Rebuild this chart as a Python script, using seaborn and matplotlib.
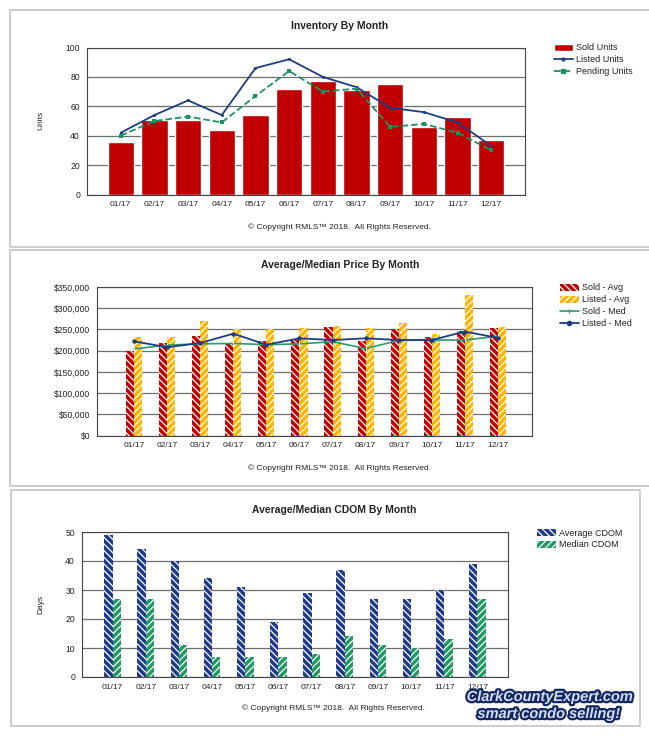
import numpy as np
import pandas as pd
import seaborn as sns
import matplotlib.pyplot as plt
import matplotlib.patheffects as pe
from matplotlib.patches import Patch, Rectangle
from matplotlib.lines import Line2D
from matplotlib.ticker import FuncFormatter, MultipleLocator

months = ['01/17', '02/17', '03/17', '04/17', '05/17', '06/17',
          '07/17', '08/17', '09/17', '10/17', '11/17', '12/17']

# Inventory
sold_units = [36, 51, 51, 44, 54, 72, 77, 71, 75, 46, 53, 37]
listed_units = [42, 54, 64, 54, 86, 92, 80, 73, 59, 56, 49, 33]
pending_units = [40, 50, 53, 49, 67, 84, 70, 72, 46, 48, 42, 30]

# Prices
sold_avg = [200000, 218000, 234000, 218000, 222000, 225000,
            256000, 223000, 250000, 231000, 247000, 253000]
listed_avg = [232000, 232000, 269000, 250000, 250000, 253000,
              258000, 253000, 264000, 240000, 332000, 255000]
sold_med = [204000, 213000, 216000, 217000, 214000, 216000,
            221000, 205000, 224000, 225000, 225000, 234000]
listed_med = [222000, 208000, 218000, 240000, 214000, 229000,
              225000, 229000, 225000, 225000, 245000, 230000]

# CDOM
avg_cdom = [49, 44, 40, 34, 31, 19, 29, 37, 27, 27, 30, 39]
median_cdom = [27, 27, 11, 7, 7, 7, 8, 14, 11, 10, 13, 27]

RED = '#c00000'
NAVY = '#1f3d7e'
GREEN = '#1f8f64'
ORANGE = '#ffb400'
CDOM_BLUE = '#1f3a8c'
CDOM_GREEN = '#1f9a62'
GRID = '#6e6e6e'
TXT = '#222222'

sns.set_theme(style='white')
plt.rcParams['font.family'] = ['Liberation Sans', 'DejaVu Sans']
plt.rcParams['hatch.color'] = 'white'
plt.rcParams['hatch.linewidth'] = 0.9

W, H = 649, 736
BACK = '\\\\\\\\\\'
FWD = '/////'


def px_box(l, t, r, b):
    return [l / W, 1 - b / H, (r - l) / W, (b - t) / H]


def fx(x):
    return x / W


def fy(y):
    return 1 - y / H


def style_axes(ax, ymax, step, xlim):
    ax.set_ylim(0, ymax)
    ax.set_xlim(*xlim)
    ax.yaxis.set_major_locator(MultipleLocator(step))
    ax.yaxis.grid(True, color=GRID, linewidth=0.9)
    ax.xaxis.grid(False)
    ax.set_axisbelow(True)
    for s in ax.spines.values():
        s.set_visible(True)
        s.set_color('#444444')
        s.set_linewidth(0.8)
    ax.tick_params(axis='both', direction='out', length=3, width=0.7,
                   color='#444444', colors=TXT, pad=2)
    ax.tick_params(axis='x', labelsize=6)
    ax.tick_params(axis='y', labelsize=6.2)
    ax.set_xlabel('')
    ax.set_ylabel('')


def grouped_bars(ax, a, b, names, colors, hatches, width):
    df = pd.DataFrame({
        'month': months * 2,
        'value': a + b,
        'series': [names[0]] * 12 + [names[1]] * 12,
    })
    sns.barplot(data=df, x='month', y='value', hue='series', order=months,
                hue_order=names, palette=colors, width=width, saturation=1,
                errorbar=None, legend=False, ax=ax)
    for cont, h in zip(ax.containers, hatches):
        for p in cont:
            p.set_hatch(h)
            p.set_edgecolor('white')
            p.set_linewidth(0)


def add_legend(fig, handles, labels, x, y):
    fig.legend(handles, labels, loc='upper left',
               bbox_to_anchor=(fx(x), fy(y)), frameon=False, fontsize=6.5,
               handlelength=2.05, handleheight=0.9, handletextpad=0.35,
               labelspacing=0.32, borderpad=0, borderaxespad=0,
               labelcolor=TXT)


fig = plt.figure(figsize=(W / 100, H / 100), dpi=100, facecolor='white')

# panel frames
for l, t, r, b in [(10, 9.5, 652, 247), (10, 250, 652, 486), (11, 490, 640, 726)]:
    fig.patches.append(Rectangle((fx(l), fy(b)), (r - l) / W, (b - t) / H,
                                 transform=fig.transFigure, fill=False,
                                 edgecolor='#c4c4c4', linewidth=1.2))

pos = np.arange(len(months))

# ---- Inventory By Month
ax1 = fig.add_axes(px_box(87, 47.5, 525, 194.5))
sns.barplot(x=months, y=sold_units, color=RED, saturation=1, width=0.78,
            errorbar=None, ax=ax1)
sns.lineplot(x=pos, y=listed_units, color=NAVY, linewidth=1.3, marker='o',
             markersize=2.2, markeredgewidth=0, ax=ax1)
sns.lineplot(x=pos, y=pending_units, color=GREEN, linewidth=1.3,
             linestyle='--', marker='s', markersize=3, markeredgewidth=0,
             ax=ax1)
style_axes(ax1, 100, 20, (-1, 12))

fig.text(fx(340), fy(26), 'Inventory By Month', ha='center', va='center',
         fontsize=7.5, fontweight='bold', color=TXT)
fig.text(fx(41), fy(120), 'Units', rotation=90, ha='center', va='center',
         fontsize=6, color=TXT)
fig.text(fx(339), fy(227.5), '© Copyright RMLS™ 2018.  All Rights Reserved.',
         ha='center', va='center', fontsize=6, color=TXT)
add_legend(fig,
           [Patch(facecolor=RED),
            Line2D([], [], color=NAVY, lw=1.3, marker='o', ms=2),
            Line2D([], [], color=GREEN, lw=1.3, ls='--', marker='s', ms=2.5)],
           ['Sold Units', 'Listed Units', 'Pending Units'], 554, 43.5)

# ---- Average/Median Price By Month
ax2 = fig.add_axes(px_box(97, 287, 532, 435.5))
grouped_bars(ax2, sold_avg, listed_avg, ['Sold - Avg', 'Listed - Avg'],
             [RED, ORANGE], [BACK, FWD], 0.49)
sns.lineplot(x=pos, y=sold_med, color='#2a9a70', linewidth=1.2, marker='|',
             markersize=2.5, ax=ax2)
sns.lineplot(x=pos, y=listed_med, color=NAVY, linewidth=1.3, marker='o',
             markersize=3.2, markeredgewidth=0, ax=ax2)
style_axes(ax2, 350000, 50000, (-1.12, 12.03))
ax2.yaxis.set_major_formatter(FuncFormatter(lambda v, _: f'${v:,.0f}'))

fig.text(fx(340), fy(265.5), 'Average/Median Price By Month', ha='center',
         va='center', fontsize=7.5, fontweight='bold', color=TXT)
fig.text(fx(339), fy(468), '© Copyright RMLS™ 2018.  All Rights Reserved.',
         ha='center', va='center', fontsize=6, color=TXT)
add_legend(fig,
           [Patch(facecolor=RED, hatch=BACK, edgecolor='white', lw=0),
            Patch(facecolor=ORANGE, hatch=FWD, edgecolor='white', lw=0),
            Line2D([], [], color='#2a9a70', lw=1.2, marker='|', ms=2.5),
            Line2D([], [], color=NAVY, lw=1.3, marker='o', ms=3)],
           ['Sold - Avg', 'Listed - Avg', 'Sold - Med', 'Listed - Med'],
           560, 283.5)

# ---- Average/Median CDOM By Month
ax3 = fig.add_axes(px_box(82, 532, 508, 677))
grouped_bars(ax3, avg_cdom, median_cdom, ['Average CDOM', 'Median CDOM'],
             [CDOM_BLUE, CDOM_GREEN], [BACK, FWD], 0.5)
style_axes(ax3, 50, 10, (-0.92, 11.92))

fig.text(fx(334), fy(510), 'Average/Median CDOM By Month', ha='center',
         va='center', fontsize=7.5, fontweight='bold', color=TXT)
fig.text(fx(41), fy(605), 'Days', rotation=90, ha='center', va='center',
         fontsize=6, color=TXT)
fig.text(fx(334), fy(708), '© Copyright RMLS™ 2018.  All Rights Reserved.',
         ha='center', va='center', fontsize=6, color=TXT)
add_legend(fig,
           [Patch(facecolor=CDOM_BLUE, hatch=BACK, edgecolor='white', lw=0),
            Patch(facecolor=CDOM_GREEN, hatch=FWD, edgecolor='white', lw=0)],
           ['Average CDOM', 'Median CDOM'], 537, 528.5)

# watermark
mark = [pe.Stroke(linewidth=3.2, foreground='#14285f'), pe.Normal()]
for txt, x, y in [('ClarkCountyExpert.com', 550, 697),
                  ('smart condo selling!', 549, 714)]:
    fig.text(fx(x), fy(y), txt, ha='center', va='center',
             fontsize=10.5, fontweight='bold', style='italic', color='#d2def8',
             family=['Liberation Sans Narrow', 'Liberation Sans', 'DejaVu Sans'],
             path_effects=mark)

fig.savefig('out.png', dpi=100, facecolor='white')
